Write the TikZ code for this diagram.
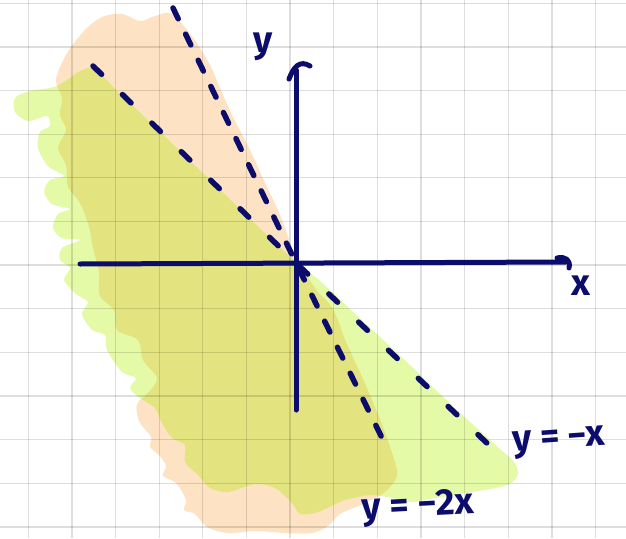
\documentclass[tikz,border=0pt]{standalone}
\usepackage{fontspec}
\newfontfamily\hand{Fira Sans}
\definecolor{peach}{RGB}{253,227,195}
\definecolor{lime}{RGB}{229,250,166}
\definecolor{olivemix}{RGB}{227,227,127}
\definecolor{ink}{RGB}{12,12,108}
\begin{document}
\begin{tikzpicture}[x=1pt,y=-1pt,
  gridline/.style={draw=black,draw opacity=0.13,line width=1.3pt},
  axisline/.style={draw=ink,line width=5pt,line cap=round,line join=round},
  dashline/.style={draw=ink,line width=5.5pt,line cap=round},
  lab/.style={text=ink,font=\hand\bfseries\fontsize{37}{37}\selectfont,inner sep=0pt}]
\useasboundingbox (0,0) rectangle (626,538);
\clip (0,0) rectangle (626,538);
\fill[white] (0,0) rectangle (626,538);
\def\orangepath{plot[smooth cycle,tension=0.55] coordinates {
 (296,263) (292,248) (280,215) (266,185) (250,150) (232,115) (220,88) (210,65)
 (196,42) (183,25) (170,13) (155,16) (140,21) (122,14) (102,17) (84,31) (66,55)
 (56,80) (62,98) (60,115) (66,130) (58,148) (66,165) (68,187) (80,203) (89,227)
 (93,248) (99,272) (100,296) (114,310) (117,330) (138,340) (143,360) (157,378)
 (148,393) (137,404) (139,421) (151,437) (150,447) (160,456) (166,466) (163,476)
 (176,483) (186,500) (184,510) (195,514) (207,527) (228,533) (255,531) (285,533)
 (312,533) (328,526) (340,514) (365,503) (385,492) (397,476) (393,456) (380,419)
 (363,379) (346,342) (333,309) (318,292) (306,275)}}
\def\greenpath{plot[smooth cycle,tension=0.5] coordinates {
 (90,68) (120,94) (150,122) (180,151) (210,180) (240,209) (270,238) (296,262)
 (320,281) (350,309) (380,337) (410,365) (440,394) (470,422) (500,449) (514,462)
 (518,474) (510,484) (490,489) (460,494) (430,499) (410,502) (392,498) (372,495)
 (345,500) (318,512) (300,514) (292,503) (275,488) (255,484) (228,492) (210,488)
 (198,475) (185,462) (185,445) (172,438) (162,423) (155,408) (140,398) (130,388)
 (136,378) (122,372) (107,350) (105,335) (92,330) (82,314) (88,302) (76,294)
 (64,280) (70,268) (60,260) (62,248) (80,240) (62,238) (53,228) (58,214) (70,209)
 (52,204) (44,192) (50,180) (64,176) (48,166) (38,148) (40,132) (50,126) (47,116)
 (28,121) (15,112) (15,98) (30,91) (57,86)}}
\fill[peach] \orangepath;
\fill[lime] \greenpath;
\begin{scope}
 \clip \orangepath;
 \fill[olivemix] \greenpath;
\end{scope}
% grid
\foreach \i in {0,...,13} \draw[gridline] ({28.3+43.63*\i},0) -- ({28.3+43.63*\i},538);
\foreach \j in {0,...,12} \draw[gridline] (0,{3.3+43.63*\j}) -- (626,{3.3+43.63*\j});
% key points
\coordinate (O) at (296,263);
\coordinate (xl) at (80,264);
\coordinate (xr) at (566,262);
\coordinate (yb) at (296,410);
\coordinate (yt) at (296,70);
\coordinate (a1) at (93,66);
\coordinate (a2) at (489,445);
\coordinate (b1) at (173,8);
\coordinate (b2) at (385,444);
% dashed lines
\draw[dashline,dash pattern=on 12pt off 29pt] (a1) -- (O) -- (a2);
\draw[dashline,dash pattern=on 12pt off 17pt] (b1) -- (O) -- (b2);
% axes
\draw[axisline] (xl) -- (xr);
\draw[axisline] (yb) -- (yt);
\draw[axisline] (289,79) .. controls (294,66) and (300,60) .. (310,66);
\draw[axisline] (557,258) .. controls (565,256) and (571,260) .. (569,268);
% labels
\node[lab] (ylab) at (263,47) {y};
\node[lab] (xlab) at (581,286) {x};
\node[lab,rotate=4] (l1) at (559,443) {y = −x};
\node[lab,rotate=3] (l2) at (418,508) {y = −2x};
\end{tikzpicture}
\end{document}
